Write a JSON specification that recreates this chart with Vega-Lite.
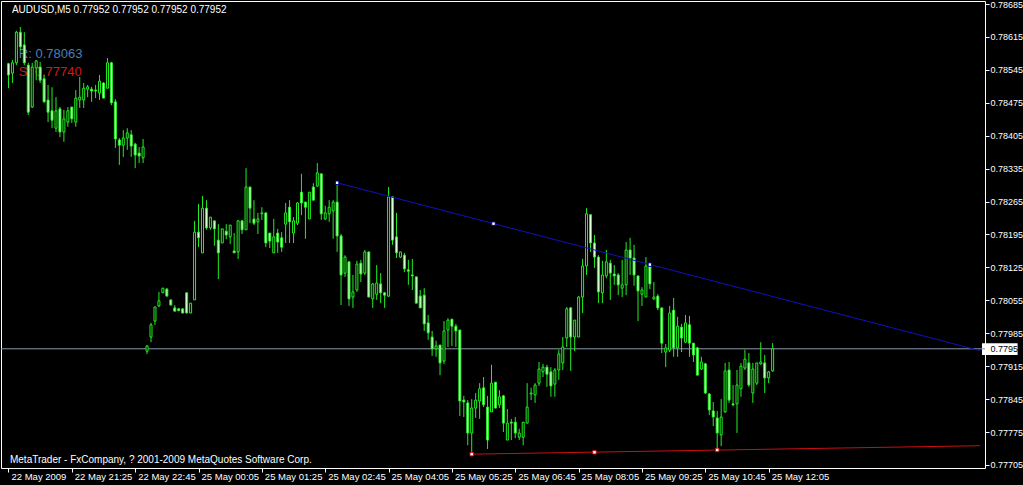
{
"$schema":"https://vega.github.io/schema/vega-lite/v6.json",
"width":984,"height":467,
"autosize":{"type":"none"},
"padding":{"left":1,"top":1,"right":38,"bottom":17},
"background":"black",
"config":{"view":{"stroke":"#ffffff","strokeWidth":1,"fill":"black"},"text":{"font":"Liberation Sans"}},
"datasets":{"bars":[
{"i":0,"o":0.78558,"h":0.78560,"l":0.78506,"c":0.78534},
{"i":1,"o":0.78538,"h":0.78566,"l":0.78517,"c":0.78560},
{"i":2,"o":0.78560,"h":0.78628,"l":0.78555,"c":0.78625},
{"i":3,"o":0.78625,"h":0.78636,"l":0.78587,"c":0.78594},
{"i":4,"o":0.78598,"h":0.78625,"l":0.78555,"c":0.78560},
{"i":5,"o":0.78555,"h":0.78560,"l":0.78449,"c":0.78455},
{"i":6,"o":0.78466,"h":0.78560,"l":0.78464,"c":0.78551},
{"i":7,"o":0.78549,"h":0.78566,"l":0.78523,"c":0.78564},
{"i":8,"o":0.78551,"h":0.78562,"l":0.78517,"c":0.78523},
{"i":9,"o":0.78526,"h":0.78534,"l":0.78475,"c":0.78477},
{"i":10,"o":0.78481,"h":0.78513,"l":0.78434,"c":0.78455},
{"i":11,"o":0.78458,"h":0.78508,"l":0.78421,"c":0.78438},
{"i":12,"o":0.78421,"h":0.78487,"l":0.78413,"c":0.78458},
{"i":13,"o":0.78462,"h":0.78466,"l":0.78402,"c":0.78413},
{"i":14,"o":0.78413,"h":0.78460,"l":0.78392,"c":0.78441},
{"i":15,"o":0.78434,"h":0.78466,"l":0.78424,"c":0.78458},
{"i":16,"o":0.78466,"h":0.78466,"l":0.78432,"c":0.78441},
{"i":17,"o":0.78434,"h":0.78502,"l":0.78424,"c":0.78485},
{"i":18,"o":0.78481,"h":0.78530,"l":0.78464,"c":0.78487},
{"i":19,"o":0.78481,"h":0.78517,"l":0.78464,"c":0.78506},
{"i":20,"o":0.78504,"h":0.78513,"l":0.78487,"c":0.78509},
{"i":21,"o":0.78504,"h":0.78509,"l":0.78477,"c":0.78500},
{"i":22,"o":0.78502,"h":0.78513,"l":0.78485,"c":0.78500},
{"i":23,"o":0.78496,"h":0.78534,"l":0.78481,"c":0.78521},
{"i":24,"o":0.78517,"h":0.78519,"l":0.78485,"c":0.78485},
{"i":25,"o":0.78506,"h":0.78570,"l":0.78506,"c":0.78560},
{"i":26,"o":0.78560,"h":0.78562,"l":0.78470,"c":0.78475},
{"i":27,"o":0.78477,"h":0.78483,"l":0.78379,"c":0.78398},
{"i":28,"o":0.78396,"h":0.78400,"l":0.78343,"c":0.78385},
{"i":29,"o":0.78385,"h":0.78417,"l":0.78360,"c":0.78400},
{"i":30,"o":0.78400,"h":0.78421,"l":0.78375,"c":0.78411},
{"i":31,"o":0.78407,"h":0.78417,"l":0.78360,"c":0.78383},
{"i":32,"o":0.78387,"h":0.78390,"l":0.78336,"c":0.78364},
{"i":33,"o":0.78368,"h":0.78381,"l":0.78347,"c":0.78362},
{"i":34,"o":0.78358,"h":0.78398,"l":0.78347,"c":0.78381},
{"i":35,"o":0.77947,"h":0.77960,"l":0.77941,"c":0.77958},
{"i":36,"o":0.77977,"h":0.78007,"l":0.77966,"c":0.78003},
{"i":37,"o":0.78011,"h":0.78041,"l":0.78003,"c":0.78041},
{"i":38,"o":0.78043,"h":0.78073,"l":0.78041,"c":0.78054},
{"i":39,"o":0.78071,"h":0.78081,"l":0.78071,"c":0.78081},
{"i":40,"o":0.78079,"h":0.78081,"l":0.78064,"c":0.78064},
{"i":41,"o":0.78056,"h":0.78056,"l":0.78045,"c":0.78045},
{"i":42,"o":0.78039,"h":0.78045,"l":0.78032,"c":0.78032},
{"i":43,"o":0.78037,"h":0.78039,"l":0.78032,"c":0.78033},
{"i":44,"o":0.78037,"h":0.78037,"l":0.78028,"c":0.78028},
{"i":45,"o":0.78071,"h":0.78071,"l":0.78028,"c":0.78028},
{"i":46,"o":0.78028,"h":0.78049,"l":0.78028,"c":0.78049},
{"i":47,"o":0.78056,"h":0.78224,"l":0.78056,"c":0.78200},
{"i":48,"o":0.78200,"h":0.78260,"l":0.78168,"c":0.78188},
{"i":49,"o":0.78156,"h":0.78277,"l":0.78156,"c":0.78251},
{"i":50,"o":0.78251,"h":0.78268,"l":0.78205,"c":0.78209},
{"i":51,"o":0.78209,"h":0.78232,"l":0.78205,"c":0.78232},
{"i":52,"o":0.78224,"h":0.78224,"l":0.78171,"c":0.78207},
{"i":53,"o":0.78183,"h":0.78217,"l":0.78100,"c":0.78156},
{"i":54,"o":0.78177,"h":0.78207,"l":0.78177,"c":0.78207},
{"i":55,"o":0.78202,"h":0.78217,"l":0.78185,"c":0.78194},
{"i":56,"o":0.78190,"h":0.78215,"l":0.78175,"c":0.78215},
{"i":57,"o":0.78160,"h":0.78198,"l":0.78156,"c":0.78156},
{"i":58,"o":0.78158,"h":0.78226,"l":0.78143,"c":0.78224},
{"i":59,"o":0.78224,"h":0.78226,"l":0.78196,"c":0.78205},
{"i":60,"o":0.78205,"h":0.78336,"l":0.78205,"c":0.78296},
{"i":61,"o":0.78296,"h":0.78296,"l":0.78219,"c":0.78251},
{"i":62,"o":0.78228,"h":0.78268,"l":0.78215,"c":0.78219},
{"i":63,"o":0.78222,"h":0.78241,"l":0.78196,"c":0.78228},
{"i":64,"o":0.78239,"h":0.78253,"l":0.78226,"c":0.78241},
{"i":65,"o":0.78241,"h":0.78241,"l":0.78168,"c":0.78177},
{"i":66,"o":0.78198,"h":0.78198,"l":0.78166,"c":0.78181},
{"i":67,"o":0.78156,"h":0.78228,"l":0.78156,"c":0.78190},
{"i":68,"o":0.78198,"h":0.78207,"l":0.78156,"c":0.78179},
{"i":69,"o":0.78188,"h":0.78200,"l":0.78158,"c":0.78168},
{"i":70,"o":0.78217,"h":0.78262,"l":0.78177,"c":0.78241},
{"i":71,"o":0.78253,"h":0.78268,"l":0.78177,"c":0.78222},
{"i":72,"o":0.78198,"h":0.78232,"l":0.78177,"c":0.78224},
{"i":73,"o":0.78219,"h":0.78264,"l":0.78215,"c":0.78262},
{"i":74,"o":0.78285,"h":0.78324,"l":0.78236,"c":0.78262},
{"i":75,"o":0.78264,"h":0.78264,"l":0.78186,"c":0.78253},
{"i":76,"o":0.78228,"h":0.78285,"l":0.78228,"c":0.78285},
{"i":77,"o":0.78296,"h":0.78304,"l":0.78268,"c":0.78268},
{"i":78,"o":0.78298,"h":0.78347,"l":0.78296,"c":0.78326},
{"i":79,"o":0.78324,"h":0.78324,"l":0.78226,"c":0.78239},
{"i":80,"o":0.78228,"h":0.78256,"l":0.78226,"c":0.78241},
{"i":81,"o":0.78239,"h":0.78268,"l":0.78222,"c":0.78253},
{"i":82,"o":0.78245,"h":0.78268,"l":0.78186,"c":0.78264},
{"i":83,"o":0.78264,"h":0.78305,"l":0.78158,"c":0.78192},
{"i":84,"o":0.78192,"h":0.78196,"l":0.78045,"c":0.78109},
{"i":85,"o":0.78113,"h":0.78151,"l":0.78105,"c":0.78147},
{"i":86,"o":0.78137,"h":0.78137,"l":0.78043,"c":0.78058},
{"i":87,"o":0.78062,"h":0.78109,"l":0.78039,"c":0.78073},
{"i":88,"o":0.78077,"h":0.78139,"l":0.78073,"c":0.78132},
{"i":89,"o":0.78134,"h":0.78141,"l":0.78094,"c":0.78111},
{"i":90,"o":0.78113,"h":0.78162,"l":0.78109,"c":0.78158},
{"i":91,"o":0.78158,"h":0.78158,"l":0.78062,"c":0.78062},
{"i":92,"o":0.78058,"h":0.78092,"l":0.78039,"c":0.78090},
{"i":93,"o":0.78068,"h":0.78130,"l":0.78056,"c":0.78092},
{"i":94,"o":0.78090,"h":0.78113,"l":0.78049,"c":0.78071},
{"i":95,"o":0.78071,"h":0.78073,"l":0.78039,"c":0.78066},
{"i":96,"o":0.78064,"h":0.78296,"l":0.78062,"c":0.78275},
{"i":97,"o":0.78275,"h":0.78275,"l":0.78173,"c":0.78183},
{"i":98,"o":0.78190,"h":0.78241,"l":0.78145,"c":0.78156},
{"i":99,"o":0.78147,"h":0.78158,"l":0.78145,"c":0.78158},
{"i":100,"o":0.78151,"h":0.78156,"l":0.78115,"c":0.78122},
{"i":101,"o":0.78120,"h":0.78141,"l":0.78088,"c":0.78117},
{"i":102,"o":0.78109,"h":0.78143,"l":0.78077,"c":0.78107},
{"i":103,"o":0.78105,"h":0.78105,"l":0.78049,"c":0.78049},
{"i":104,"o":0.78064,"h":0.78077,"l":0.78039,"c":0.78039},
{"i":105,"o":0.78066,"h":0.78081,"l":0.77990,"c":0.78005},
{"i":106,"o":0.78007,"h":0.78024,"l":0.77971,"c":0.77986},
{"i":107,"o":0.77977,"h":0.77990,"l":0.77937,"c":0.77952},
{"i":108,"o":0.77952,"h":0.77969,"l":0.77935,"c":0.77958},
{"i":109,"o":0.77960,"h":0.77960,"l":0.77896,"c":0.77922},
{"i":110,"o":0.77926,"h":0.78011,"l":0.77920,"c":0.77990},
{"i":111,"o":0.77992,"h":0.78017,"l":0.77956,"c":0.78013},
{"i":112,"o":0.78015,"h":0.78015,"l":0.77958,"c":0.78000},
{"i":113,"o":0.78000,"h":0.78005,"l":0.77956,"c":0.77990},
{"i":114,"o":0.77992,"h":0.77992,"l":0.77809,"c":0.77841},
{"i":115,"o":0.77843,"h":0.77852,"l":0.77807,"c":0.77839},
{"i":116,"o":0.77837,"h":0.77843,"l":0.77747,"c":0.77773},
{"i":117,"o":0.77773,"h":0.77845,"l":0.77728,"c":0.77826},
{"i":118,"o":0.77826,"h":0.77858,"l":0.77805,"c":0.77843},
{"i":119,"o":0.77841,"h":0.77879,"l":0.77803,"c":0.77867},
{"i":120,"o":0.77869,"h":0.77892,"l":0.77828,"c":0.77833},
{"i":121,"o":0.77828,"h":0.77852,"l":0.77739,"c":0.77758},
{"i":122,"o":0.77818,"h":0.77918,"l":0.77818,"c":0.77879},
{"i":123,"o":0.77881,"h":0.77881,"l":0.77826,"c":0.77826},
{"i":124,"o":0.77833,"h":0.77864,"l":0.77826,"c":0.77850},
{"i":125,"o":0.77852,"h":0.77854,"l":0.77775,"c":0.77794},
{"i":126,"o":0.77758,"h":0.77824,"l":0.77758,"c":0.77794},
{"i":127,"o":0.77796,"h":0.77803,"l":0.77758,"c":0.77794},
{"i":128,"o":0.77796,"h":0.77807,"l":0.77762,"c":0.77773},
{"i":129,"o":0.77764,"h":0.77782,"l":0.77758,"c":0.77773},
{"i":130,"o":0.77764,"h":0.77796,"l":0.77747,"c":0.77796},
{"i":131,"o":0.77794,"h":0.77879,"l":0.77794,"c":0.77828},
{"i":132,"o":0.77856,"h":0.77869,"l":0.77843,"c":0.77858},
{"i":133,"o":0.77854,"h":0.77879,"l":0.77837,"c":0.77875},
{"i":134,"o":0.77879,"h":0.77924,"l":0.77873,"c":0.77909},
{"i":135,"o":0.77903,"h":0.77920,"l":0.77892,"c":0.77913},
{"i":136,"o":0.77913,"h":0.77918,"l":0.77871,"c":0.77898},
{"i":137,"o":0.77903,"h":0.77913,"l":0.77850,"c":0.77873},
{"i":138,"o":0.77877,"h":0.77911,"l":0.77850,"c":0.77907},
{"i":139,"o":0.77907,"h":0.77950,"l":0.77886,"c":0.77941},
{"i":140,"o":0.77922,"h":0.77977,"l":0.77907,"c":0.77956},
{"i":141,"o":0.77975,"h":0.78041,"l":0.77956,"c":0.78037},
{"i":142,"o":0.78039,"h":0.78041,"l":0.77905,"c":0.77977},
{"i":143,"o":0.77977,"h":0.78013,"l":0.77947,"c":0.78013},
{"i":144,"o":0.77977,"h":0.78064,"l":0.77977,"c":0.78062},
{"i":145,"o":0.78062,"h":0.78143,"l":0.78028,"c":0.78128},
{"i":146,"o":0.78128,"h":0.78251,"l":0.78109,"c":0.78239},
{"i":147,"o":0.78237,"h":0.78237,"l":0.78158,"c":0.78177},
{"i":148,"o":0.78177,"h":0.78194,"l":0.78124,"c":0.78147},
{"i":149,"o":0.78147,"h":0.78151,"l":0.78049,"c":0.78073},
{"i":150,"o":0.78071,"h":0.78139,"l":0.78049,"c":0.78109},
{"i":151,"o":0.78107,"h":0.78162,"l":0.78102,"c":0.78137},
{"i":152,"o":0.78134,"h":0.78141,"l":0.78056,"c":0.78113},
{"i":153,"o":0.78111,"h":0.78130,"l":0.78088,"c":0.78107},
{"i":154,"o":0.78109,"h":0.78113,"l":0.78066,"c":0.78088},
{"i":155,"o":0.78081,"h":0.78141,"l":0.78062,"c":0.78088},
{"i":156,"o":0.78088,"h":0.78179,"l":0.78066,"c":0.78162},
{"i":157,"o":0.78162,"h":0.78188,"l":0.78109,"c":0.78145},
{"i":158,"o":0.78145,"h":0.78173,"l":0.78086,"c":0.78109},
{"i":159,"o":0.78107,"h":0.78107,"l":0.78011,"c":0.78075},
{"i":160,"o":0.78068,"h":0.78083,"l":0.78043,"c":0.78077},
{"i":161,"o":0.78062,"h":0.78147,"l":0.78062,"c":0.78128},
{"i":162,"o":0.78130,"h":0.78134,"l":0.78079,"c":0.78090},
{"i":163,"o":0.78058,"h":0.78094,"l":0.78056,"c":0.78062},
{"i":164,"o":0.78064,"h":0.78068,"l":0.78034,"c":0.78039},
{"i":165,"o":0.78039,"h":0.78039,"l":0.77943,"c":0.77964},
{"i":166,"o":0.77945,"h":0.77962,"l":0.77913,"c":0.77954},
{"i":167,"o":0.77949,"h":0.78043,"l":0.77945,"c":0.78028},
{"i":168,"o":0.78034,"h":0.78060,"l":0.77935,"c":0.77954},
{"i":169,"o":0.77954,"h":0.78020,"l":0.77935,"c":0.78000},
{"i":170,"o":0.77998,"h":0.78005,"l":0.77945,"c":0.77975},
{"i":171,"o":0.77966,"h":0.78024,"l":0.77964,"c":0.78007},
{"i":172,"o":0.78003,"h":0.78022,"l":0.77935,"c":0.77964},
{"i":173,"o":0.77964,"h":0.77964,"l":0.77924,"c":0.77939},
{"i":174,"o":0.77954,"h":0.77956,"l":0.77896,"c":0.77896},
{"i":175,"o":0.77909,"h":0.77935,"l":0.77907,"c":0.77924},
{"i":176,"o":0.77920,"h":0.77922,"l":0.77856,"c":0.77858},
{"i":177,"o":0.77856,"h":0.77858,"l":0.77811,"c":0.77822},
{"i":178,"o":0.77820,"h":0.77839,"l":0.77788,"c":0.77807},
{"i":179,"o":0.77805,"h":0.77820,"l":0.77739,"c":0.77773},
{"i":180,"o":0.77769,"h":0.77845,"l":0.77745,"c":0.77807},
{"i":181,"o":0.77818,"h":0.77922,"l":0.77816,"c":0.77905},
{"i":182,"o":0.77907,"h":0.77924,"l":0.77837,"c":0.77843},
{"i":183,"o":0.77835,"h":0.77875,"l":0.77830,"c":0.77833},
{"i":184,"o":0.77835,"h":0.77907,"l":0.77773,"c":0.77875},
{"i":185,"o":0.77867,"h":0.77922,"l":0.77850,"c":0.77915},
{"i":186,"o":0.77911,"h":0.77950,"l":0.77907,"c":0.77930},
{"i":187,"o":0.77922,"h":0.77943,"l":0.77871,"c":0.77875},
{"i":188,"o":0.77858,"h":0.77922,"l":0.77837,"c":0.77909},
{"i":189,"o":0.77879,"h":0.77922,"l":0.77875,"c":0.77922},
{"i":190,"o":0.77920,"h":0.77966,"l":0.77918,"c":0.77924},
{"i":191,"o":0.77922,"h":0.77939,"l":0.77858,"c":0.77890},
{"i":192,"o":0.77890,"h":0.77905,"l":0.77879,"c":0.77903},
{"i":193,"o":0.77905,"h":0.77964,"l":0.77903,"c":0.77952}
]},
"layer":[
{"data":{"values":[{"p":0.77952}]},"mark":{"type":"rect","color":"#ffffff"},
 "encoding":{"x":{"datum":245.875,"type":"quantitative","title":null,"scale":{"domain":[-0.625,245.375],"nice":false,"zero":false},"axis":{"title":null}},"x2":{"datum":254.875},
  "y":{"datum":0.77964,"type":"quantitative","title":null,"scale":{"domain":[0.776986,0.786914],"nice":false,"zero":false},"axis":{"title":null}},"y2":{"datum":0.77939}}},
{"data":{"values":[{"p":0.77952}]},"mark":{"type":"rule","color":"#8a9ab0","strokeWidth":1},
 "encoding":{"y":{"field":"p","type":"quantitative","title":null,"scale":{"domain":[0.776986,0.786914],"nice":false,"zero":false},"axis":{"title":null}}}},
{"data":{"values":[{"t":"R: 0.78063"}]},"mark":{"type":"text","align":"left","baseline":"middle","fontSize":13,"color":"#4a7fb5","font":"Liberation Sans"},
 "encoding":{"x":{"datum":2.625,"type":"quantitative","title":null,"scale":{"domain":[-0.625,245.375],"nice":false,"zero":false},"axis":{"title":null}},
  "y":{"datum":0.78578,"type":"quantitative","title":null,"scale":{"domain":[0.776986,0.786914],"nice":false,"zero":false},"axis":{"title":null}},"text":{"field":"t"}}},
{"data":{"values":[{"t":"S: 0.77740"}]},"mark":{"type":"text","align":"left","baseline":"middle","fontSize":13,"color":"#d01818","font":"Liberation Sans"},
 "encoding":{"x":{"datum":2.625,"type":"quantitative","title":null,"scale":{"domain":[-0.625,245.375],"nice":false,"zero":false},"axis":{"title":null}},
  "y":{"datum":0.78540,"type":"quantitative","title":null,"scale":{"domain":[0.776986,0.786914],"nice":false,"zero":false},"axis":{"title":null}},"text":{"field":"t"}}},
{"data":{"name":"bars"},"mark":{"type":"rule","color":"#22ee22","strokeWidth":1},
 "encoding":{
  "x":{"field":"i","type":"quantitative","title":null,"scale":{"domain":[-0.625,245.375],"nice":false,"zero":false},
   "axis":{"values":[0,16,32,48,64,80,96,112,128,144,160,176,192],"tickCount":100,
    "labelExpr":"['22 May 2009','22 May 21:25','22 May 22:45','25 May 00:05','25 May 01:25','25 May 02:45','25 May 04:05','25 May 05:25','25 May 06:45','25 May 08:05','25 May 09:25','25 May 10:45','25 May 12:05'][round(datum.value/16)]",
    "grid":false,"domain":false,"ticks":true,"tickSize":4,"tickColor":"#ffffff","labelColor":"#ffffff","labelFont":"Liberation Sans","labelFontSize":9.5,
    "labelAlign":"left","labelBaseline":"top","labelPadding":-1,"labelOffset":2.5,"labelOverlap":false,"labelFlush":false,"labelBound":false,"title":null,"zindex":1}},
  "y":{"field":"l","type":"quantitative","title":null,"scale":{"domain":[0.776986,0.786914],"nice":false,"zero":false},
   "axis":{"orient":"right","values":[0.78685,0.78615,0.78545,0.78475,0.78405,0.78335,0.78265,0.78195,0.78125,0.78055,0.77985,0.77952,0.77915,0.77845,0.77775,0.77705],"tickCount":100,
    "format":".5f","grid":false,"domain":false,"ticks":true,"tickSize":4,"tickColor":"#ffffff",
    "labelColor":{"condition":{"test":"abs(datum.value-0.77952)<0.000001","value":"#000000"},"value":"#ffffff"},
    "labelFont":"Liberation Sans","labelFontSize":9,"labelAlign":"left","labelBaseline":"middle","labelPadding":1,"labelOverlap":false,"labelFlush":false,"labelBound":false,"title":null,"zindex":1}},
  "y2":{"field":"h"}}},
{"data":{"name":"bars"},"mark":{"type":"bar","width":2,"stroke":"#22ee22","strokeWidth":1},
 "encoding":{
  "x":{"field":"i","type":"quantitative","title":null,"scale":{"domain":[-0.625,245.375],"nice":false,"zero":false},"axis":{"title":null}},
  "y":{"field":"o","type":"quantitative","title":null,"scale":{"domain":[0.776986,0.786914],"nice":false,"zero":false},"axis":{"title":null}},
  "y2":{"field":"c"},
  "fill":{"condition":{"test":"datum.c < datum.o","value":"#e2ffdc"},"value":"#000000"}}},
{"data":{"values":[{"s":"R","b":83,"p":0.78305},{"s":"R","b":245.375,"p":0.77948},{"s":"S","b":117,"p":0.77728},{"s":"S","b":245.375,"p":0.77746}]},
 "mark":{"type":"line","strokeWidth":1},
 "encoding":{
  "x":{"field":"b","type":"quantitative","title":null,"scale":{"domain":[-0.625,245.375],"nice":false,"zero":false},"axis":{"title":null}},
  "y":{"field":"p","type":"quantitative","title":null,"scale":{"domain":[0.776986,0.786914],"nice":false,"zero":false},"axis":{"title":null}},
  "detail":{"field":"s"},
  "color":{"field":"s","type":"nominal","scale":{"domain":["R","S"],"range":["#1010c0","#c81010"]},"legend":null}}},
{"data":{"values":[{"s":"R","b":83,"p":0.78305},{"s":"R","b":122.5,"p":0.78218},{"s":"R","b":162,"p":0.78131},{"s":"S","b":117,"p":0.77728},{"s":"S","b":148,"p":0.77732},{"s":"S","b":179,"p":0.77737}]},
 "mark":{"type":"square","size":12,"fill":"#ffffff","fillOpacity":1,"strokeWidth":1,"strokeOpacity":1},
 "encoding":{
  "x":{"field":"b","type":"quantitative","title":null,"scale":{"domain":[-0.625,245.375],"nice":false,"zero":false},"axis":{"title":null}},
  "y":{"field":"p","type":"quantitative","title":null,"scale":{"domain":[0.776986,0.786914],"nice":false,"zero":false},"axis":{"title":null}},
  "stroke":{"field":"s","type":"nominal","scale":{"domain":["R","S"],"range":["#000090","#c81010"]},"legend":null}}},
{"data":{"values":[{"t":"AUDUSD,M5  0.77952 0.77952 0.77952 0.77952"}]},"mark":{"type":"text","align":"left","baseline":"middle","fontSize":10,"color":"#ffffff","font":"Liberation Sans"},
 "encoding":{"x":{"datum":0.875,"type":"quantitative","title":null,"scale":{"domain":[-0.625,245.375],"nice":false,"zero":false},"axis":{"title":null}},
  "y":{"datum":0.786722,"type":"quantitative","title":null,"scale":{"domain":[0.776986,0.786914],"nice":false,"zero":false},"axis":{"title":null}},"text":{"field":"t"}}},
{"data":{"values":[{"t":"MetaTrader - FxCompany, ? 2001-2009 MetaQuotes Software Corp."}]},"mark":{"type":"text","align":"left","baseline":"middle","fontSize":10,"color":"#ffffff","font":"Liberation Sans"},
 "encoding":{"x":{"datum":0.375,"type":"quantitative","title":null,"scale":{"domain":[-0.625,245.375],"nice":false,"zero":false},"axis":{"title":null}},
  "y":{"datum":0.777156,"type":"quantitative","title":null,"scale":{"domain":[0.776986,0.786914],"nice":false,"zero":false},"axis":{"title":null}},"text":{"field":"t"}}}
]
}
